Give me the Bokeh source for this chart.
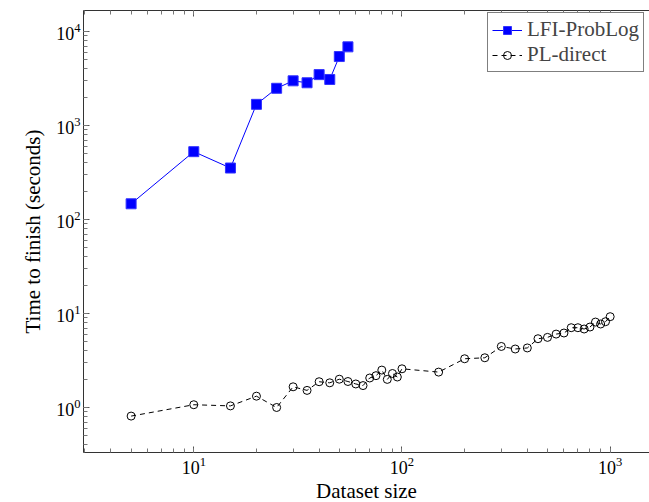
from bokeh.plotting import figure
from bokeh.models import LogAxis, LogTicker, Legend, LegendItem, CustomJSTickFormatter, Range1d
from bokeh.embed import file_html
from bokeh.resources import INLINE

# Data
lfi_x = [5, 10, 15, 20, 25, 30, 35, 40, 45, 50, 55]
lfi_y = [147, 527, 353, 1680, 2490, 2990, 2850, 3480, 3090, 5420, 6870]

pl_x = [5, 10, 15, 20, 25, 30, 35, 40, 45, 50, 55, 60, 65, 70, 75, 80, 85, 90, 95, 100,
        150, 200, 250, 300, 350, 400, 450, 500, 550, 600, 650, 700, 750, 800, 850, 900, 950, 1000]
pl_y = [0.81, 1.07, 1.04, 1.32, 1.0, 1.66, 1.52, 1.88, 1.83, 2.0, 1.89, 1.78, 1.71, 2.06, 2.18,
        2.50, 1.99, 2.30, 2.11, 2.58,
        2.38, 3.30, 3.38, 4.46, 4.19, 4.30, 5.39, 5.57, 6.04, 6.20, 7.06, 7.06, 6.84, 7.18,
        8.11, 7.73, 8.18, 9.25]

x_label = "Dataset size"
y_label = "Time to finish (seconds)"
series_names = ["LFI-ProbLog", "PL-direct"]

FONT = "'Liberation Serif', serif"

p = figure(x_axis_type="log", y_axis_type="log",
           x_range=Range1d(2.953, 1545), y_range=Range1d(0.332, 16740),
           frame_width=566, frame_height=442,
           output_backend="svg", toolbar_location=None,
           min_border_left=83, min_border_right=0, min_border_top=10, min_border_bottom=0)
p.outline_line_color = None
p.grid.visible = False
p.background_fill_color = "white"
p.border_fill_color = "white"

def style_axis(ax):
    ax.axis_line_color = "#333333"
    ax.axis_line_width = 1
    ax.major_tick_in = 6
    ax.major_tick_out = 0
    ax.minor_tick_in = 4
    ax.minor_tick_out = 0
    ax.major_tick_line_color = "#555555"
    ax.minor_tick_line_color = "#777777"
    ax.major_label_text_font = FONT
    ax.major_label_text_font_size = "18px"
    ax.major_label_text_color = "black"
    ax.axis_label_text_font = FONT
    ax.axis_label_text_font_size = "21px"
    ax.axis_label_text_font_style = "normal"
    ax.axis_label_text_color = "black"

for ax in p.xaxis + p.yaxis:
    style_axis(ax)
    ax.ticker = LogTicker(num_minor_ticks=10)

p.xaxis.axis_label = x_label
p.yaxis.axis_label = y_label
p.xaxis.major_label_standoff = 4
p.yaxis.major_label_standoff = 3
p.xaxis.axis_label_standoff = 2
p.yaxis.axis_label_standoff = 8

top = LogAxis(ticker=LogTicker(num_minor_ticks=10),
              formatter=CustomJSTickFormatter(code="return ''"))
style_axis(top)
top.major_label_text_font_size = "0px"
top.major_label_standoff = 0
p.add_layout(top, "above")

r1 = p.line(lfi_x, lfi_y, line_color="#0000ff", line_width=1)
r1m = p.scatter(lfi_x, lfi_y, marker="square", size=10, fill_color="#0000ff",
                line_color="#3333ff", line_width=1)

r2 = p.line(pl_x, pl_y, line_color="black", line_width=1, line_dash="5 4")
r2m = p.scatter(pl_x, pl_y, marker="circle", size=8, fill_color=None,
                line_color="black", line_width=1)

legend = Legend(items=[LegendItem(label=series_names[0], renderers=[r1, r1m]),
                       LegendItem(label=series_names[1], renderers=[r2, r2m])],
                location=(404, 380))
legend.label_text_font = FONT
legend.label_text_font_size = "21px"
legend.label_height = 20
legend.glyph_height = 20
legend.glyph_width = 30
legend.label_standoff = 5
legend.spacing = 0
legend.padding = 4
legend.margin = 0
legend.border_line_color = "black"
legend.border_line_width = 1
legend.background_fill_alpha = 1
p.add_layout(legend)

open("out.html", "w").write(file_html(p, INLINE))
